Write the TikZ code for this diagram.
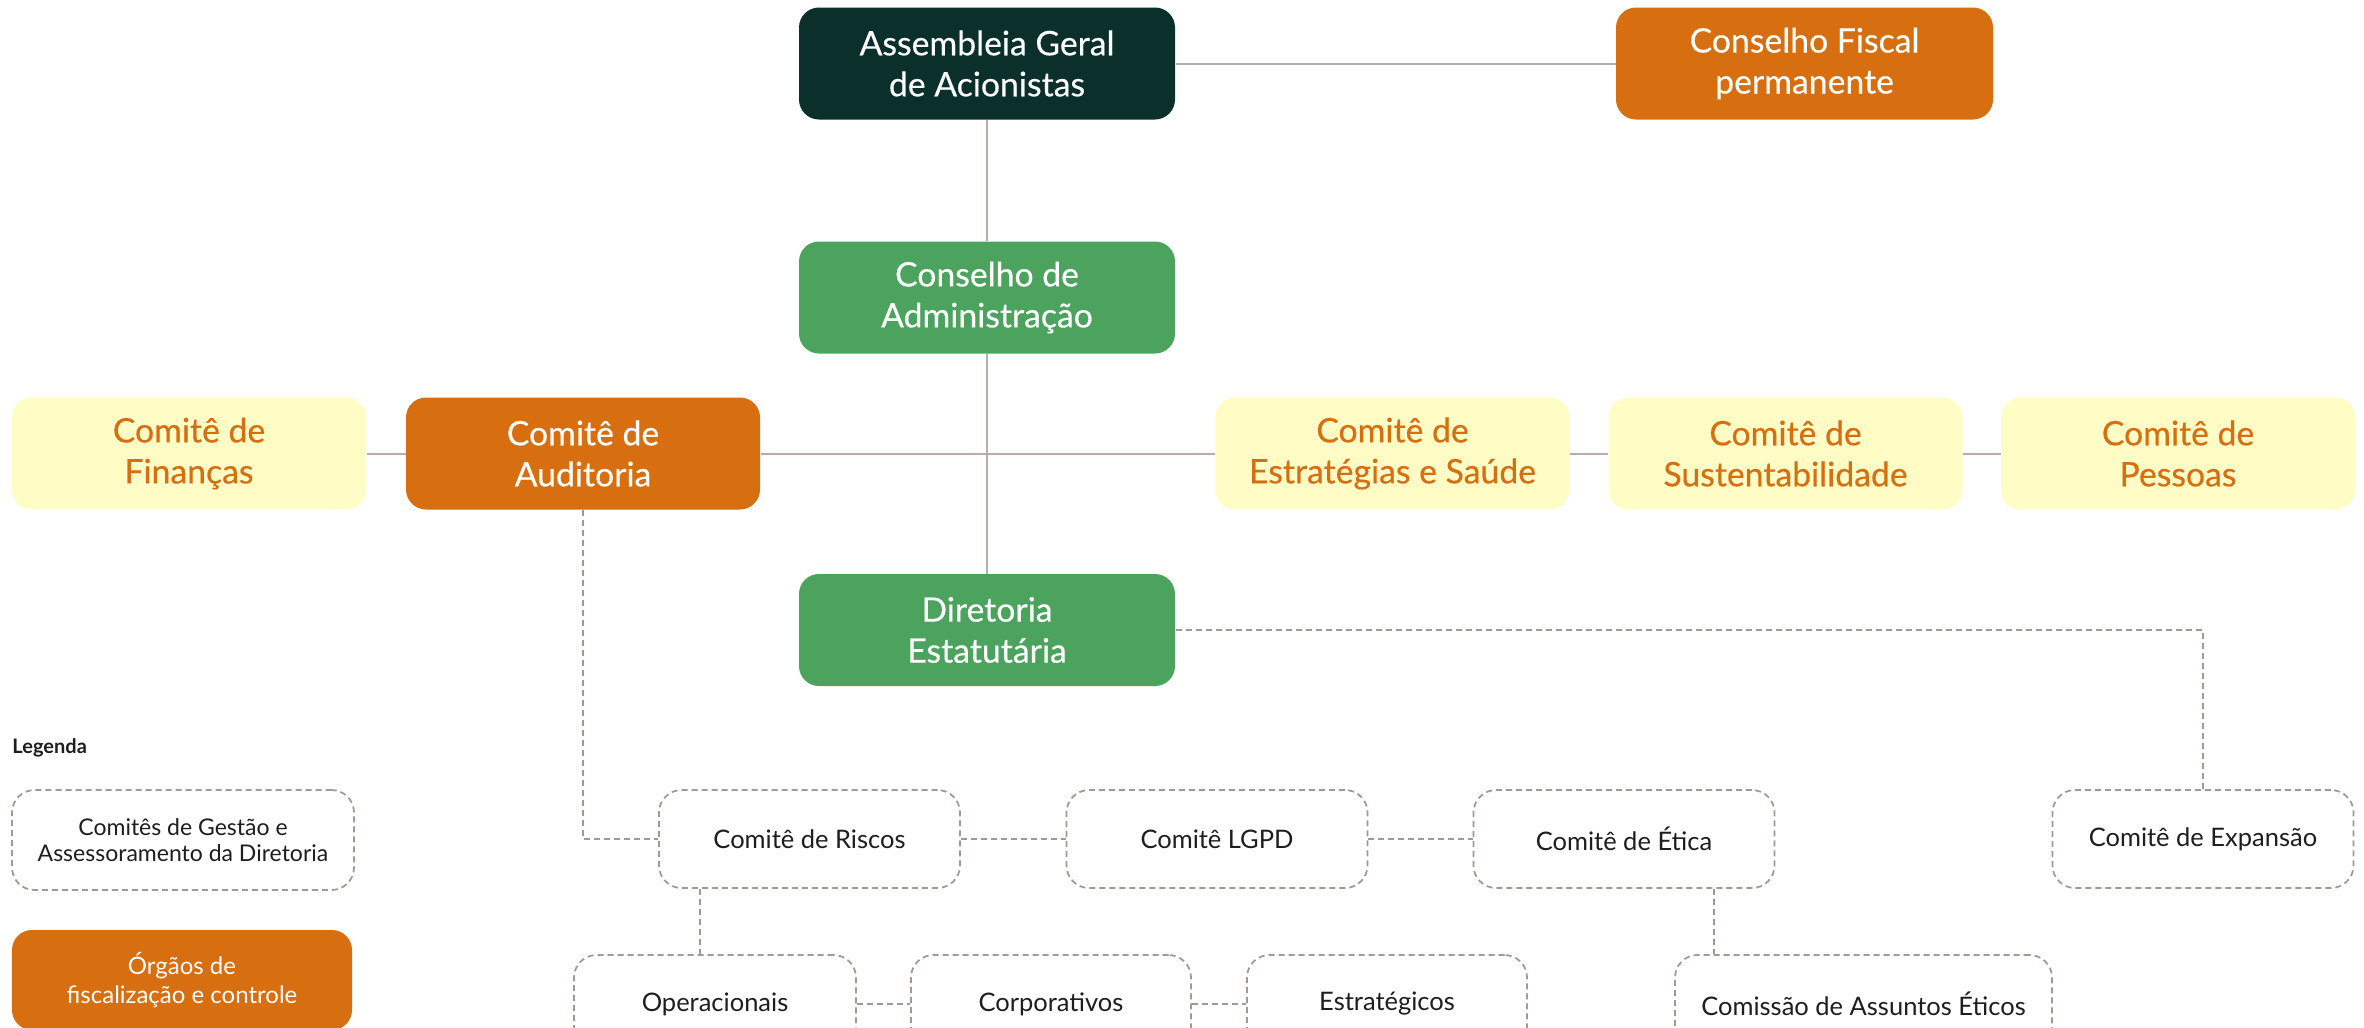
\documentclass[tikz,border=0pt]{standalone}
\usepackage{fontspec}
\setmainfont{Lato}
\newfontfamily\medfont{Lato}[FakeBold=0.35]
\usepackage{xcolor}
\usetikzlibrary{positioning,calc}

\definecolor{darkgreen}{HTML}{0B2F2B}
\definecolor{brandorange}{HTML}{D76E0F}
\definecolor{brandgreen}{HTML}{4BA35E}
\definecolor{paleyellow}{HTML}{FFFCC5}
\definecolor{linegray}{HTML}{B8ADA7}
\definecolor{dashgray}{HTML}{A39892}
\definecolor{textdark}{HTML}{1E1E1E}

\tikzset{
  bigbox/.style={rounded corners=8pt, minimum width=150.4pt, minimum height=44.8pt,
    align=center, inner sep=0pt, text=white, font=\medfont\fontsize{13.5}{16.4}\selectfont},
  headbox/.style={bigbox, fill=darkgreen},
  boardbox/.style={bigbox, fill=brandgreen},
  fiscbox/.style={bigbox, fill=brandorange},
  advbox/.style={bigbox, fill=paleyellow, text=brandorange, minimum width=141.6pt},
  mgmtbox/.style={draw=dashgray, dashed, dash pattern=on 2.4pt off 1.6pt, line width=0.7pt,
    rounded corners=9pt, minimum width=120.4pt, minimum height=39.2pt, align=center,
    inner sep=0pt, text=textdark, font=\fontsize{10.2}{11.5}\selectfont},
  solidline/.style={draw=linegray, line width=0.8pt},
  dashline/.style={draw=dashgray, line width=0.7pt, dash pattern=on 2.4pt off 1.6pt}
}

\begin{document}
\begin{tikzpicture}[x=0.4pt,y=-0.4pt]
  % canvas
  \fill[white] (0,0) rectangle (2364,1027);
  \clip (0,0) rectangle (2364,1027);

  % top level
  \node[headbox] (assembleia) at (987,63.5) {Assembleia Geral\\de Acionistas};
  \node[fiscbox, minimum width=150.8pt] (fiscal) at (1804.5,63.5) {Conselho Fiscal\\permanente};
  \node[boardbox] (conselho) at (987,297.5) {Conselho de\\Administração};
  \node[boardbox] (diretoria) at (987,630) {Diretoria\\Estatutária};

  % committees of the board
  \node[advbox] (financas) at (189,453.5) {Comitê de\\Finanças};
  \node[fiscbox, minimum width=141.6pt] (auditoria) at (583,453.5) {Comitê de\\Auditoria};
  \node[advbox] (estrategias) at (1392.5,453.5) {Comitê de\\Estratégias e Saúde};
  \node[advbox] (sustent) at (1785.5,453.5) {Comitê de\\Sustentabilidade};
  \node[advbox] (pessoas) at (2178,453.5) {Comitê de\\Pessoas};

  % management committees
  \node[mgmtbox] (riscos) at (809.5,839) {Comitê de Riscos};
  \node[mgmtbox] (lgpd) at (1217,839) {Comitê LGPD};
  \node[mgmtbox] (etica) at (1624,839) {Comitê de Ética};
  \node[mgmtbox] (expansao) at (2203,839) {Comitê de Expansão};
  \node[mgmtbox, minimum width=112.8pt] (operac) at (715,1004) {Operacionais};
  \node[mgmtbox, minimum width=112pt] (corpor) at (1051,1004) {Corporativos};
  \node[mgmtbox, minimum width=112pt] (estrat) at (1387,1004) {Estratégicos};
  \node[mgmtbox, minimum width=150.8pt] (comissao) at (1863.5,1004) {Comissão de Assuntos Éticos};

  % legend
  \node[anchor=west, inner sep=0pt, text=textdark, font=\bfseries\fontsize{8}{10}\selectfont]
    (legenda) at (12,748) {Legenda};
  \node[mgmtbox, minimum width=136.8pt, minimum height=40pt, font=\fontsize{9.2}{10.2}\selectfont]
    (leggestao) at (183,840) {Comitês de Gestão e\\Assessoramento da Diretoria};
  \node[fiscbox, minimum width=136pt, minimum height=40pt, font=\fontsize{9.6}{11.6}\selectfont]
    (legfisc) at (182,980) {Órgãos de\\fiscalização e controle};

  % solid links
  \draw[solidline] (assembleia) -- (fiscal);
  \draw[solidline] (assembleia) -- (conselho);
  \draw[solidline] (conselho) -- (diretoria);
  \draw[solidline] (financas) -- (auditoria);
  \draw[solidline] (auditoria) -- (estrategias);
  \draw[solidline] (estrategias) -- (sustent);
  \draw[solidline] (sustent) -- (pessoas);

  % dashed links
  \draw[dashline] (auditoria.south) |- (riscos.west);
  \draw[dashline] (riscos) -- (lgpd);
  \draw[dashline] (lgpd) -- (etica);
  \draw[dashline] (diretoria.east) -| (expansao.north);
  \draw[dashline] ([xshift=-43.8pt]riscos.south) -- ([xshift=-43.8pt]riscos.south |- operac.north);
  \draw[dashline] (operac) -- (corpor);
  \draw[dashline] (corpor) -- (estrat);
  \draw[dashline] ([xshift=36pt]etica.south) -- ([xshift=36pt]etica.south |- comissao.north);
\end{tikzpicture}
\end{document}
